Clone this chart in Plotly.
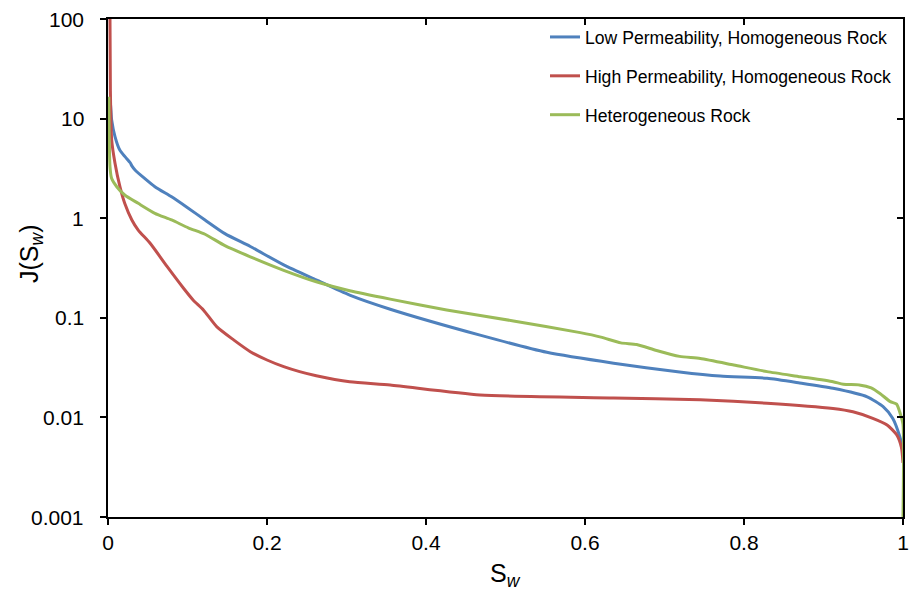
import math
import plotly.graph_objects as go

# Leverett J-function curves, J(Sw), for three rock types
sw_low = [0.001, 0.0025, 0.0046, 0.0088, 0.015, 0.0214, 0.028, 0.03, 0.034, 0.059, 0.08,
          0.101, 0.122, 0.147, 0.179, 0.221, 0.262, 0.304, 0.355, 0.468, 0.552, 0.636,
          0.719, 0.77, 0.829, 0.87, 0.912, 0.955, 0.975, 0.987, 0.996, 1.0]
j_low = [16, 15.4, 9.7, 6.6, 4.8, 4.15, 3.6, 3.35, 3.05, 2.07, 1.64,
         1.26, 0.96, 0.70, 0.52, 0.34, 0.24, 0.169, 0.122, 0.067, 0.045, 0.035,
         0.0286, 0.026, 0.0247, 0.0222, 0.0196, 0.0161, 0.0128, 0.0098, 0.0064, 0.0047]

sw_high = [0.0025, 0.003, 0.0046, 0.0088, 0.015, 0.021, 0.03, 0.038, 0.053, 0.074, 0.095,
           0.107, 0.12, 0.137, 0.158, 0.179, 0.2, 0.221, 0.241, 0.262, 0.304, 0.355,
           0.468, 0.636, 0.745, 0.829, 0.912, 0.937, 0.962, 0.98, 0.992, 0.998, 1.0]
j_high = [100, 19, 6.1, 3.56, 2.07, 1.41, 0.96, 0.76, 0.56, 0.33, 0.198,
          0.151, 0.12, 0.081, 0.060, 0.0457, 0.0377, 0.0323, 0.0288, 0.0262, 0.0228, 0.0211,
          0.0168, 0.0157, 0.015, 0.0139, 0.0123, 0.0114, 0.0098, 0.0084, 0.0067, 0.005, 0.0035]

sw_het = [0.001, 0.0025, 0.0046, 0.011, 0.021, 0.038, 0.059, 0.08, 0.101, 0.122, 0.147,
          0.179, 0.221, 0.262, 0.304, 0.355, 0.426, 0.51, 0.594, 0.62, 0.645, 0.665, 0.69,
          0.719, 0.745, 0.787, 0.829, 0.871, 0.912, 0.925, 0.945, 0.96, 0.971, 0.984, 0.992,
          0.997, 1.0, 1.0]
j_het = [16.6, 3.3, 2.5, 2.07, 1.71, 1.41, 1.12, 0.96, 0.80, 0.69, 0.53,
         0.41, 0.30, 0.23, 0.187, 0.154, 0.12, 0.093, 0.071, 0.064, 0.056, 0.054, 0.047,
         0.041, 0.039, 0.0336, 0.0288, 0.0256, 0.0228, 0.0215, 0.0212, 0.0198, 0.0174, 0.0144, 0.0136,
         0.0106, 0.0085, 0.001]

x_ticks = [0, 0.2, 0.4, 0.6, 0.8, 1]
x_tick_text = ["0", "0.2", "0.4", "0.6", "0.8", "1"]
y_ticks = [0.001, 0.01, 0.1, 1, 10, 100]
y_tick_text = ["0.001", "0.01", "0.1", "1", "10", "100"]

series = [
    ("Low Permeability, Homogeneous Rock", sw_low, j_low, "#4F81BD"),
    ("High Permeability, Homogeneous Rock", sw_high, j_high, "#C0504D"),
    ("Heterogeneous Rock", sw_het, j_het, "#9BBB59"),
]

FONT = "Liberation Sans, Arial, sans-serif"
W, H = 911, 597
ML, MR, MT, MB = 108, 8, 19, 80
Y_LABEL_GAP = 22  # px between y tick labels and the axis line

fig = go.Figure()
for i, (name, sw, j, color) in enumerate(series):
    fig.add_trace(go.Scatter(
        x=sw, y=j, mode="lines", name=name, legendgroup=str(i),
        line=dict(color=color, width=3, shape="spline", smoothing=0.6),
    ))

# empty trace carrying the top/right axes with inward ticks
fig.add_trace(go.Scatter(x=[], y=[], xaxis="x2", yaxis="y2", showlegend=False,
                         hoverinfo="skip"))

axis_common = dict(
    ticklen=6, tickwidth=1.5, tickcolor="black", showgrid=False, zeroline=False,
    automargin=False,
)

plot_w = W - ML - MR
plot_h = H - MT - MB

# y tick labels placed on the y scale, set off from the axis line
y_label_annotations = [
    dict(text=t, xref="paper", yref="y", x=-Y_LABEL_GAP / plot_w, y=math.log10(v),
         xanchor="right", yanchor="middle", showarrow=False, font=dict(size=21))
    for v, t in zip(y_ticks, y_tick_text)
]

fig.update_layout(
    width=W, height=H,
    margin=dict(l=ML, r=MR, t=MT, b=MB, autoexpand=False),
    paper_bgcolor="white", plot_bgcolor="white",
    font=dict(family=FONT, color="black", size=21),
    showlegend=True,
    legend=dict(
        x=(545 - ML) / plot_w, y=1.0, xanchor="left", yanchor="top",
        font=dict(family=FONT, size=17.6, color="black"),
        tracegroupgap=13, bgcolor="rgba(0,0,0,0)",
    ),
    xaxis=dict(
        range=[0, 1], tickvals=x_ticks, ticktext=x_tick_text, ticks="outside",
        showline=True, linecolor="black", linewidth=1.5, mirror=True,
        tickfont=dict(size=21), **axis_common,
    ),
    yaxis=dict(
        type="log", range=[-3, 2], tickvals=y_ticks, ticks="outside",
        showticklabels=False,
        showline=True, linecolor="black", linewidth=1.5, mirror=True, **axis_common,
    ),
    xaxis2=dict(
        overlaying="x", side="top", range=[0, 1], tickvals=x_ticks, ticks="inside",
        showticklabels=False, showline=False, **axis_common,
    ),
    yaxis2=dict(
        overlaying="y", side="right", type="log", range=[-3, 2], tickvals=y_ticks,
        ticks="inside", showticklabels=False, showline=False, **axis_common,
    ),
    annotations=y_label_annotations + [
        dict(text="S<sub><i>w</i></sub>", xref="paper", yref="paper",
             x=0.5, y=(H - MB - 575) / plot_h, xanchor="center", yanchor="middle",
             showarrow=False, font=dict(size=25)),
        dict(text="J(S<sub><i>w</i></sub>)", xref="paper", yref="paper",
             x=(31 - ML) / plot_w, y=(H - MB - 254) / plot_h, xanchor="center",
             yanchor="middle", textangle=-90, showarrow=False, font=dict(size=25)),
    ],
)

fig.write_html("out.html")
